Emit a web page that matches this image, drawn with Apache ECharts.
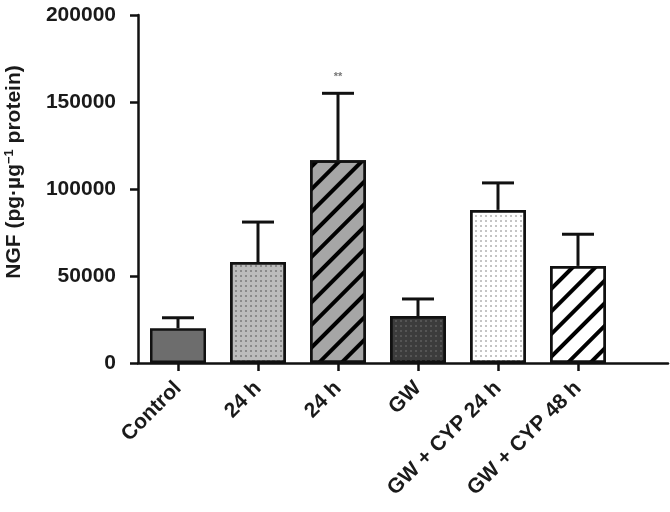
<!DOCTYPE html>
<html>
<head>
<meta charset="utf-8">
<script src="https://cdn.jsdelivr.net/npm/echarts@6/dist/echarts.min.js"></script>
<style>
  html, body { margin: 0; padding: 0; background: #fff; }
  #chart { width: 670px; height: 512px; }
</style>
</head>
<body>
<div id="chart"></div>
<script>
// groups along the x axis
const categories = ['Control', '24 h', '24 h', 'GW', 'GW + CYP 24 h', 'GW + CYP 48 h'];
// mean NGF and SD (pg/ug protein)
const means = [20000, 58000, 116500, 27000, 88000, 55800];
const sds = [6000, 23000, 38500, 9800, 15500, 18200];
const marks = ['', '', '**', '', '', ''];
const yTicks = [0, 50000, 100000, 150000, 200000];

const positions = categories.map((c, i) => i + 1);

const fillColors = ['#6d6d6d', '#bcbcbc', '#a6a6a6', '#3c3c3c', '#ffffff', '#ffffff'];
const dots = (color) => ({
  symbol: 'rect', symbolSize: 1, color: color,
  dashArrayX: [1.5, 3], dashArrayY: [1.5, 3], rotation: 0
});
const stripes = {
  symbol: 'rect', symbolSize: 1, color: '#000',
  dashArrayX: [1, 0], dashArrayY: [3.5, 12], rotation: -Math.PI / 4
};
const decals = [null, dots('#8a8a8a'), stripes, dots('#555555'), dots('#c4c4c4'), stripes];

const font = "'Liberation Sans', Arial, sans-serif";

const chart = echarts.init(document.getElementById('chart'), null, { renderer: 'canvas' });

const option = {
  animation: false,
  backgroundColor: '#fff',
  grid: { left: 138, right: 2, top: 15, bottom: 149, containLabel: false, outerBoundsMode: 'none' },
  xAxis: {
    type: 'value',
    min: 0.5,
    max: 7.125,
    splitLine: { show: false },
    axisLine: { show: true, onZero: false, lineStyle: { color: '#111', width: 2.5 } },
    axisTick: { show: true, length: 8, customValues: positions, lineStyle: { color: '#111', width: 2.5 } },
    axisLabel: {
      customValues: positions,
      rotate: 45,
      margin: 22,
      fontFamily: font,
      fontWeight: 'bold',
      fontSize: 21,
      color: '#1a1a1a',
      formatter: v => categories[Math.round(v) - 1] || ''
    }
  },
  yAxis: {
    type: 'value',
    min: 0,
    max: 200000,
    interval: 50000,
    splitLine: { show: false },
    axisLine: { show: true, lineStyle: { color: '#111', width: 2.5 } },
    axisTick: { show: true, length: 8, lineStyle: { color: '#111', width: 2.5 } },
    axisLabel: {
      margin: 22,
      fontFamily: font,
      fontWeight: 'bold',
      fontSize: 21,
      color: '#1a1a1a',
      customValues: yTicks,
      formatter: v => String(v)
    },
    name: 'NGF (pg·µg{sup|−1} protein)',
    nameLocation: 'middle',
    nameRotate: 90,
    nameGap: 112,
    nameTextStyle: {
      fontFamily: font,
      fontWeight: 'bold',
      fontSize: 21,
      color: '#1a1a1a',
      padding: [0, 0, 0, 34],
      rich: {
        sup: { fontFamily: font, fontWeight: 'bold', fontSize: 13, color: '#1a1a1a', verticalAlign: 'top', padding: [0, 0, 10, 0] }
      }
    }
  },
  series: [
    {
      type: 'bar',
      barWidth: 56,
      data: means.map((m, i) => ({
        value: [positions[i], m],
        itemStyle: {
          color: fillColors[i],
          borderColor: '#111',
          borderWidth: 2.5,
          decal: decals[i] || undefined
        }
      })),
      z: 2
    },
    {
      type: 'custom',
      z: 3,
      data: means.map((m, i) => [positions[i], m, m + sds[i], marks[i]]),
      renderItem: function (params, api) {
        const x = api.value(0);
        const base = api.coord([x, api.value(1)]);
        const top = api.coord([x, api.value(2)]);
        const half = 16;
        const children = [
          { type: 'line', shape: { x1: base[0], y1: base[1], x2: top[0], y2: top[1] }, style: { stroke: '#111', lineWidth: 3 } },
          { type: 'line', shape: { x1: top[0] - half, y1: top[1], x2: top[0] + half, y2: top[1] }, style: { stroke: '#111', lineWidth: 3 } }
        ];
        const mark = marks[params.dataIndex];
        if (mark) {
          children.push({
            type: 'text',
            style: { text: mark, x: top[0], y: top[1] - 16, align: 'center', verticalAlign: 'middle', fontFamily: font, fontSize: 11, fontWeight: 'bold', fill: '#777' }
          });
        }
        return { type: 'group', children: children };
      }
    }
  ]
};

chart.setOption(option);
</script>
</body>
</html>
